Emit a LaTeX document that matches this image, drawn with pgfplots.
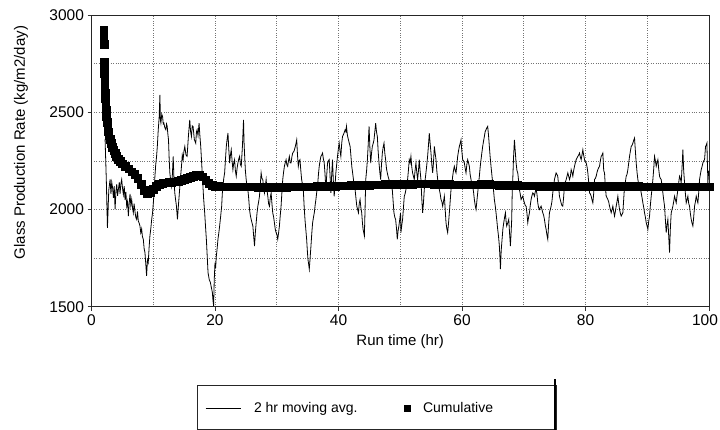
\documentclass[border=0pt]{standalone}
\usepackage{pgfplots}
\pgfplotsset{compat=1.18}
\usepackage{fontspec}
\setmainfont{Liberation Sans}

\pgfplotsset{
  linelegend/.style={legend image code/.code={\draw[##1] (0pt,0pt) -- (35pt,0pt);}},
  marklegend/.style={legend image code/.code={\draw[mark repeat=2,mark phase=2,##1,mark size=2.8pt] plot coordinates {(0pt,0pt) (17.5pt,0pt) (35pt,0pt)};}},
}

\pgfplotstableread{
x v
2.20 2360
2.40 2150
2.58 1906
2.80 2100
3.01 2154
3.15 2080
3.28 2140
3.42 2110
3.55 2060
3.68 2120
3.82 2000
3.95 2090
4.09 2130
4.22 2070
4.35 2102
4.50 2140
4.62 2080
4.75 2130
4.89 2154
5.02 2110
5.16 2077
5.30 2120
5.43 2050
5.57 2090
5.70 2017
5.84 2040
5.97 1966
6.10 2030
6.24 2080
6.37 2020
6.51 2051
6.64 2010
6.77 1983
6.90 2030
7.04 1990
7.17 1960
7.31 1949
7.45 1990
7.58 1940
7.72 1930
7.85 1915
7.98 1880
8.12 1900
8.25 1860
8.39 1847
8.52 1800
8.66 1778
8.79 1720
8.92 1659
9.06 1740
9.19 1727
9.32 1800
9.46 1864
9.60 1900
9.75 1950
9.89 1983
10.05 2050
10.27 2171
10.40 2230
10.54 2273
10.67 2330
10.81 2410
10.95 2470
11.08 2589
11.16 2460
11.24 2444
11.38 2490
11.51 2478
11.62 2440
11.72 2444
11.88 2420
12.04 2410
12.15 2440
12.26 2427
12.36 2390
12.47 2358
12.58 2260
12.69 2188
12.82 2150
12.96 2120
13.10 2180
13.23 2273
13.36 2150
13.49 2085
13.62 2050
13.76 2017
13.92 1949
14.05 2010
14.19 2068
14.38 2150
14.57 2222
14.70 2280
14.84 2256
14.97 2300
15.11 2324
15.30 2280
15.48 2273
15.70 2380
15.91 2461
16.05 2400
16.18 2375
16.32 2430
16.45 2427
16.65 2360
16.88 2341
17.00 2400
17.10 2410
17.25 2380
17.42 2444
17.55 2380
17.69 2324
17.82 2250
17.96 2171
18.15 2060
18.33 1983
18.47 1910
18.60 1847
18.74 1760
18.87 1676
19.06 1640
19.25 1625
19.40 1600
19.57 1574
19.68 1530
19.78 1505
19.88 1640
20.00 1727
20.10 1700
20.22 1761
20.35 1800
20.48 1847
20.62 1880
20.75 1915
20.90 1960
21.08 2017
21.18 2080
21.29 2120
21.42 2160
21.56 2188
21.70 2260
21.83 2324
21.96 2360
22.10 2393
22.23 2310
22.37 2239
22.50 2280
22.63 2307
22.77 2250
22.90 2205
23.04 2240
23.17 2256
23.30 2200
23.44 2171
23.57 2210
23.71 2239
23.85 2260
23.98 2273
24.12 2230
24.25 2222
24.45 2330
24.62 2461
24.70 2350
24.78 2290
24.92 2200
25.05 2154
25.18 2120
25.32 2102
25.45 2060
25.59 2000
25.72 1970
25.86 1949
26.00 1930
26.13 1915
26.27 1860
26.40 1812
26.53 1880
26.67 1932
26.80 1980
26.94 2017
27.07 2040
27.20 2068
27.34 2130
27.47 2188
27.60 2160
27.74 2154
27.88 2110
28.01 2085
28.15 2120
28.28 2154
28.42 2100
28.55 2068
28.68 2030
28.82 2017
28.95 2060
29.09 2085
29.22 2030
29.35 1983
29.50 1960
29.62 1932
29.75 1900
29.89 1881
30.03 1870
30.16 1847
30.30 1880
30.43 1915
30.57 1970
30.70 2017
30.84 2090
30.97 2154
31.10 2190
31.24 2222
31.37 2240
31.51 2256
31.64 2230
31.77 2222
31.90 2250
32.04 2273
32.17 2240
32.31 2239
32.45 2270
32.58 2290
32.80 2300
33.01 2324
33.12 2340
33.23 2358
33.36 2280
33.49 2222
33.62 2250
33.76 2256
33.90 2200
34.03 2154
34.16 2130
34.30 2102
34.43 2020
34.57 1949
34.70 1900
34.84 1847
34.95 1790
35.05 1744
35.16 1720
35.27 1693
35.40 1750
35.54 1812
35.68 1880
35.81 1932
35.95 1960
36.08 1983
36.21 2020
36.34 2051
36.48 2090
36.61 2120
36.75 2180
36.88 2222
37.01 2250
37.15 2273
37.28 2280
37.42 2290
37.55 2260
37.69 2239
37.82 2180
37.96 2102
38.10 2180
38.23 2239
38.36 2250
38.49 2256
38.62 2180
38.76 2085
38.90 2180
39.03 2256
39.16 2150
39.30 2068
39.43 2120
39.57 2188
39.70 2230
39.84 2273
39.97 2310
40.11 2341
40.25 2300
40.38 2273
40.52 2340
40.65 2375
40.86 2390
41.08 2410
41.20 2400
41.29 2427
41.45 2380
41.61 2358
41.75 2340
41.88 2324
42.00 2280
42.15 2222
42.28 2190
42.42 2154
42.55 2120
42.69 2102
42.82 2060
42.96 2017
43.10 2000
43.23 1983
43.36 2030
43.49 2051
43.62 2010
43.76 1983
43.88 1930
43.98 1898
44.10 1880
44.19 1864
44.30 2000
44.41 2154
44.55 2200
44.68 2256
44.82 2340
44.95 2427
45.08 2320
45.22 2239
45.35 2290
45.48 2324
45.62 2340
45.75 2358
45.88 2400
46.02 2444
46.15 2400
46.29 2375
46.42 2300
46.56 2239
46.70 2190
46.83 2154
46.96 2230
47.10 2290
47.23 2320
47.37 2341
47.50 2290
47.63 2256
47.77 2210
47.90 2188
48.03 2170
48.17 2154
48.30 2140
48.44 2120
48.58 2110
48.71 2102
48.85 2040
48.98 1983
49.12 1960
49.25 1949
49.40 1900
49.52 1847
49.65 1890
49.78 1915
49.92 1950
50.05 1983
50.11 1881
50.25 1920
50.38 1949
50.52 2010
50.65 2068
50.78 2080
50.92 2102
51.05 2130
51.19 2154
51.32 2200
51.46 2256
51.60 2240
51.73 2273
51.86 2220
52.00 2188
52.14 2170
52.27 2154
52.40 2200
52.54 2239
52.68 2190
52.81 2154
52.95 2200
53.08 2256
53.21 2200
53.35 2154
53.48 2060
53.62 1983
53.75 2030
53.89 2102
54.02 2150
54.16 2188
54.30 2230
54.43 2273
54.57 2330
54.70 2392
54.84 2340
54.98 2290
55.11 2230
55.25 2188
55.38 2240
55.52 2324
55.65 2290
55.79 2256
55.92 2200
56.06 2154
56.20 2130
56.33 2102
56.47 2080
56.60 2051
56.74 2040
56.87 2017
57.00 2040
57.14 2068
57.28 2000
57.41 1932
57.55 1900
57.68 1881
57.82 1930
57.95 1983
58.08 2040
58.22 2102
58.35 2130
58.49 2171
58.62 2200
58.76 2222
58.90 2200
59.03 2188
59.17 2230
59.30 2273
59.43 2300
59.57 2324
59.70 2340
59.84 2358
59.97 2300
60.11 2256
60.25 2250
60.38 2239
60.52 2210
60.65 2188
60.78 2230
60.92 2256
61.05 2240
61.19 2222
61.32 2180
61.46 2154
61.60 2130
61.73 2120
61.87 2090
62.00 2051
62.14 2020
62.27 2000
62.40 2040
62.54 2085
62.68 2130
62.81 2171
62.95 2220
63.08 2256
63.21 2290
63.35 2324
63.48 2350
63.62 2375
63.75 2400
63.89 2410
64.02 2420
64.16 2427
64.30 2380
64.43 2324
64.56 2270
64.70 2222
64.83 2180
64.97 2137
65.10 2100
65.24 2051
65.38 2020
65.51 1983
65.65 1940
65.78 1898
65.92 1860
66.05 1812
66.15 1750
66.22 1693
66.35 1790
66.49 1847
66.62 1900
66.76 1932
66.90 1960
67.03 1983
67.14 1940
67.24 1915
67.40 1930
67.57 1949
67.70 1880
67.84 1812
67.95 1880
68.05 1949
68.14 2100
68.22 2154
68.35 2270
68.49 2358
68.62 2300
68.76 2239
68.90 2200
69.03 2188
69.16 2150
69.30 2102
69.43 2080
69.57 2051
69.70 2060
69.84 2068
69.97 2050
70.11 2034
70.25 2020
70.38 2017
70.52 1980
70.65 1932
70.78 1960
70.92 1983
71.05 2020
71.19 2051
71.32 2070
71.46 2085
71.60 2080
71.73 2068
71.86 2090
72.00 2102
72.14 2080
72.27 2034
72.40 2010
72.54 2000
72.68 2010
72.81 2017
72.95 2000
73.08 1983
73.22 1970
73.35 1949
73.48 1920
73.62 1898
73.75 1870
73.89 1847
74.02 1920
74.16 1983
74.30 2000
74.43 2017
74.56 2040
74.70 2085
74.84 2120
74.97 2154
75.10 2170
75.24 2188
75.38 2180
75.51 2171
75.65 2120
75.78 2068
75.92 2050
76.05 2034
76.18 2020
76.32 2017
76.45 2060
76.59 2120
76.72 2140
76.87 2154
77.00 2170
77.14 2188
77.28 2170
77.41 2154
77.55 2170
77.68 2205
77.82 2190
77.95 2171
78.08 2200
78.22 2222
78.35 2240
78.49 2256
78.62 2265
78.76 2273
78.90 2280
79.03 2290
79.16 2270
79.30 2256
79.43 2280
79.57 2307
79.70 2280
79.84 2256
79.97 2245
80.11 2239
80.25 2220
80.38 2188
80.52 2140
80.65 2085
80.78 2080
80.92 2068
81.05 2050
81.19 2034
81.32 2080
81.46 2154
81.60 2160
81.73 2171
81.86 2190
82.00 2205
82.14 2215
82.27 2222
82.40 2250
82.54 2273
82.68 2280
82.81 2290
82.95 2200
83.08 2188
83.21 2120
83.35 2068
83.48 2060
83.62 2051
83.75 2040
83.89 2017
84.02 2000
84.16 1983
84.30 2000
84.43 2017
84.56 1990
84.70 1966
84.84 1990
84.97 2017
85.10 2040
85.24 2068
85.38 2030
85.51 2000
85.65 1980
85.78 1966
85.92 1975
86.05 1983
86.18 2050
86.32 2120
86.45 2140
86.59 2171
86.72 2180
86.86 2205
87.00 2240
87.13 2273
87.27 2300
87.40 2324
87.54 2330
87.67 2341
87.80 2355
87.94 2367
88.08 2300
88.21 2239
88.35 2190
88.48 2154
88.62 2130
88.75 2120
88.89 2110
89.02 2085
89.16 2060
89.29 2034
89.43 2010
89.56 1983
89.70 1960
89.83 1932
89.97 1915
90.10 1898
90.24 1940
90.37 1966
90.50 2020
90.64 2068
90.78 2110
90.91 2154
91.05 2210
91.18 2273
91.32 2250
91.45 2222
91.58 2240
91.72 2256
91.85 2210
91.99 2171
92.12 2160
92.26 2154
92.40 2120
92.53 2085
92.66 2050
92.80 2017
92.93 1950
93.07 1881
93.20 1920
93.34 1949
93.48 1860
93.61 1778
93.74 1900
93.88 1983
94.02 2000
94.15 2017
94.28 2040
94.42 2068
94.56 2050
94.69 2034
94.82 2070
94.96 2102
95.10 2140
95.23 2171
95.36 2160
95.50 2137
95.64 2220
95.77 2307
95.90 2200
96.04 2137
96.18 2080
96.31 2034
96.45 2050
96.58 2068
96.72 2030
96.85 2017
96.98 1980
97.12 1949
97.25 1930
97.39 1915
97.52 1960
97.66 2017
97.80 2040
97.93 2068
98.06 2050
98.20 2034
98.34 2090
98.47 2154
98.60 2180
98.74 2205
98.87 2220
99.01 2239
99.14 2250
99.28 2256
99.44 2324
99.55 2330
99.66 2341
99.82 2137
99.95 2200
}\movavg

\pgfplotstableread{
x v
2.00 2925
2.00 2895
2.05 2850
2.05 2760
2.10 2730
2.10 2700
2.15 2660
2.15 2630
2.20 2600
2.25 2570
2.30 2540
2.35 2510
2.40 2480
2.50 2450
2.60 2420
2.70 2400
2.80 2380
3.00 2360
3.20 2340
3.40 2320
3.60 2305
3.80 2290
4.00 2275
4.30 2260
4.60 2248
5.00 2235
5.50 2222
6.00 2210
6.50 2195
7.00 2180
7.50 2160
8.00 2130
8.50 2100
9.00 2085
9.50 2090
10.0 2105
10.5 2120
11.0 2130
11.5 2135
12.0 2138
12.5 2140
13.0 2140
13.5 2142
14.0 2145
14.5 2150
15.0 2155
15.5 2160
16.0 2165
16.5 2172
17.0 2176
17.5 2178
18.0 2168
18.5 2150
19.0 2135
19.5 2125
20.0 2120
20.5 2119
21.0 2118
21.5 2118
22.0 2118
22.5 2118
23.0 2117
23.5 2117
24.0 2117
24.5 2117
25.0 2117
25.5 2117
26.0 2117
26.5 2117
27.0 2116
27.5 2116
28.0 2116
28.5 2116
29.0 2116
29.5 2116
30.0 2116
30.5 2116
31.0 2116
31.5 2116
32.0 2117
32.5 2117
33.0 2117
33.5 2118
34.0 2118
34.5 2118
35.0 2118
35.5 2118
36.0 2118
36.5 2119
37.0 2119
37.5 2120
38.0 2120
38.5 2120
39.0 2121
39.5 2121
40.0 2122
40.5 2122
41.0 2123
41.5 2123
42.0 2124
42.5 2124
43.0 2125
43.5 2125
44.0 2125
44.5 2126
45.0 2126
45.5 2127
46.0 2127
46.5 2128
47.0 2128
47.5 2129
48.0 2129
48.5 2129
49.0 2130
49.5 2130
50.0 2130
50.5 2130
51.0 2131
51.5 2131
52.0 2131
52.5 2132
53.0 2132
53.5 2132
54.0 2132
54.5 2132
55.0 2132
55.5 2131
56.0 2131
56.5 2130
57.0 2130
57.5 2129
58.0 2129
58.5 2128
59.0 2128
59.5 2128
60.0 2128
60.5 2128
61.0 2128
61.5 2128
62.0 2128
62.5 2128
63.0 2129
63.5 2129
64.0 2130
64.5 2129
65.0 2128
65.5 2127
66.0 2126
66.5 2125
67.0 2125
67.5 2124
68.0 2124
68.5 2124
69.0 2124
69.5 2123
70.0 2123
70.5 2123
71.0 2122
71.5 2122
72.0 2122
72.5 2121
73.0 2121
73.5 2120
74.0 2120
74.5 2120
75.0 2120
75.5 2120
76.0 2120
76.5 2120
77.0 2120
77.5 2120
78.0 2120
78.5 2120
79.0 2120
79.5 2120
80.0 2120
80.5 2120
81.0 2120
81.5 2120
82.0 2120
82.5 2120
83.0 2120
83.5 2120
84.0 2119
84.5 2119
85.0 2119
85.5 2119
86.0 2119
86.5 2119
87.0 2119
87.5 2119
88.0 2119
88.5 2119
89.0 2118
89.5 2118
90.0 2118
90.5 2118
91.0 2118
91.5 2118
92.0 2118
92.5 2118
93.0 2118
93.5 2117
94.0 2117
94.5 2117
95.0 2117
95.5 2117
96.0 2117
96.5 2117
97.0 2117
97.5 2117
98.0 2117
98.5 2117
99.0 2117
99.5 2117
100.0 2117
}\cumul

\begin{document}
\begin{tikzpicture}
\useasboundingbox (0pt,0pt) rectangle (720pt,-430pt);
\begin{axis}[
  at={(91.5pt,-306.7pt)}, anchor=south west,
  scale only axis, width=617.5pt, height=291.7pt,
  xmin=0, xmax=100, ymin=1500, ymax=3000,
  xtick={0,20,...,100}, minor xtick={10,30,50,70,90},
  xticklabels={0,20,40,60,80,\hspace*{-8pt}100},
  ytick={1500,2000,2500,3000}, minor ytick={1750,2250,2750},
  grid=both,
  major grid style={black!55, dotted, line width=0.6pt},
  minor grid style={black!55, dotted, line width=0.6pt},
  minor tick length=0pt, major tick length=4pt,
  tick align=outside, tick pos=left,
  tick style={black!80, line width=0.6pt},
  axis line style={black!85, line width=0.8pt},
  scaled ticks=false,
  /pgf/number format/assume math mode=true,
  /pgf/number format/1000 sep={},
  ticklabel style={font=\fontsize{15.5}{18}\selectfont},
  xlabel={Run time (hr)},
  ylabel={Glass Production Rate (kg/m2/day)},
  every axis x label/.style={at={(axis description cs:0.5,-0.118)}, anchor=center, font=\fontsize{15}{18}\selectfont},
  every axis y label/.style={at={(axis description cs:-0.114,0.5625)}, anchor=center, rotate=90, font=\fontsize{15}{18}\selectfont},
  legend columns=2,
  legend style={at={(axis description cs:0.1838,-0.348)}, anchor=west, draw=none, fill=none,
    inner sep=0pt, font=\fontsize{14}{17}\selectfont,
    /tikz/every odd column/.append style={column sep=11pt},
    /tikz/every even column/.append style={column sep=45pt}},
]
\addplot[black, line width=0.8pt, linelegend]
  table[x=x, y=v] {\movavg};
\addlegendentry{2 hr moving avg.}
\addplot[black, only marks, mark=square*, mark size=3.8pt, marklegend]
  table[x=x, y=v] {\cumul};
\addlegendentry{Cumulative}
\end{axis}
\draw[black!85, line width=0.8pt] (197pt,-385pt) rectangle (556pt,-429pt);
\draw[black, line width=2.5pt] (555pt,-379pt) -- (555pt,-430pt);
\end{tikzpicture}
\end{document}
